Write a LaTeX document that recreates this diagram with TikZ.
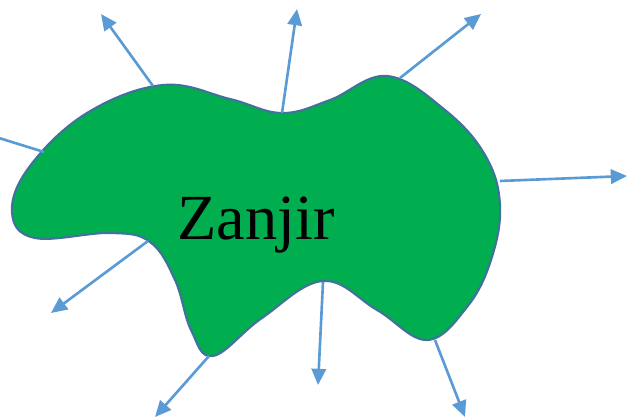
\documentclass[tikz,border=0pt]{standalone}
\usepackage{fontspec}
\setmainfont{Liberation Serif}
\usepackage{xcolor}
\usetikzlibrary{arrows.meta}

\definecolor{blobgreen}{HTML}{00AE4F}
\definecolor{bloblinecol}{HTML}{41719C}
\definecolor{arrowblue}{HTML}{5B9BD5}

\begin{document}
\begin{tikzpicture}[x=0.01cm, y=-0.01cm,
  blob/.style={fill=blobgreen, draw=bloblinecol, line width=0.6pt},
  ray/.style={-{Triangle[length=4.6pt, width=4.1pt]}, draw=arrowblue,
    fill=arrowblue, line width=0.75pt},
  lbl/.style={font=\fontsize{18.3}{20}\selectfont, anchor=base}]
  \useasboundingbox (0,0) rectangle (628,419);
  \clip (0,0) rectangle (628,419);
  % Blob
  \draw[blob] plot[smooth cycle, tension=0.65] coordinates {
    (12,212) (30,166) (87,113) (163,85) (230,99) (282,113)
    (330,100) (387,76) (445,110) (485,155) (500,205) (491,260)
    (467,307) (427,340) (377,310) (323,281) (262,318) (213,356)
    (191,330) (175,280) (150,242) (110,233) (35,238)};
  \node[lbl] (name) at (256,240) {Zanjir};
  % Ray start points on the outline
  \coordinate (s1) at (44,152);
  \coordinate (s2) at (153,86);
  \coordinate (s3) at (282,113);
  \coordinate (s4) at (400,78);
  \coordinate (s5) at (500,181);
  \coordinate (s6) at (148,241);
  \coordinate (s7) at (209,356);
  \coordinate (s8) at (323,282);
  \coordinate (s9) at (435,340);
  % Ray end points
  \coordinate (e1) at (-30,129);
  \coordinate (e2) at (101,14);
  \coordinate (e3) at (297,9);
  \coordinate (e4) at (481,14);
  \coordinate (e5) at (627,176);
  \coordinate (e6) at (51,313);
  \coordinate (e7) at (155,417);
  \coordinate (e8) at (318,385);
  \coordinate (e9) at (465,417);
  % Rays
  \draw[ray] (s1) -- (e1);
  \draw[ray] (s2) -- (e2);
  \draw[ray] (s3) -- (e3);
  \draw[ray] (s4) -- (e4);
  \draw[ray] (s5) -- (e5);
  \draw[ray] (s6) -- (e6);
  \draw[ray] (s7) -- (e7);
  \draw[ray] (s8) -- (e8);
  \draw[ray] (s9) -- (e9);
\end{tikzpicture}
\end{document}
